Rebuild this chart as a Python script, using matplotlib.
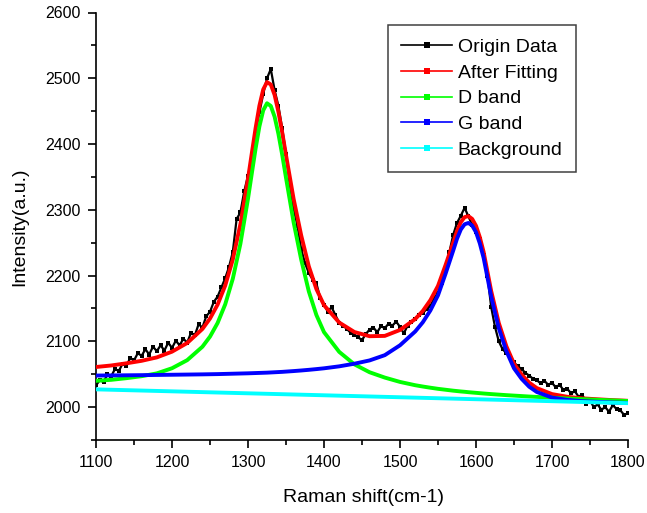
import matplotlib
matplotlib.use('Agg')
import matplotlib.pyplot as plt
from matplotlib.lines import Line2D
from matplotlib.ticker import MultipleLocator

plt.rcParams['font.family'] = ['Liberation Sans', 'DejaVu Sans']

# ---------------- data ----------------
# measured spectrum (every 5 cm-1 from 1100 to 1800)
raman_x = list(range(1100, 1805, 5))
origin_data = [
    2033, 2041, 2038, 2050, 2047, 2058, 2055, 2066, 2062, 2075,
    2071, 2082, 2078, 2088, 2080, 2092, 2085, 2094, 2086, 2098,
    2090, 2101, 2094, 2104, 2098, 2113, 2109, 2126, 2121, 2138,
    2145, 2160, 2168, 2182, 2196, 2213, 2236, 2286, 2296, 2328,
    2352, 2378, 2420, 2448, 2476, 2500, 2514, 2482, 2458, 2424,
    2385, 2338, 2302, 2276, 2240, 2219, 2204, 2194, 2188, 2166,
    2156, 2145, 2152, 2140, 2128, 2124, 2119, 2113, 2110, 2106,
    2102, 2111, 2118, 2121, 2114, 2123, 2120, 2127, 2124, 2130,
    2122, 2112, 2124, 2130, 2134, 2140, 2143, 2149, 2154, 2166,
    2174, 2189, 2212, 2236, 2262, 2280, 2291, 2303, 2290, 2277,
    2266, 2256, 2232, 2200, 2152, 2122, 2100, 2088, 2082, 2078,
    2068, 2062, 2058, 2052, 2048, 2043, 2041, 2036, 2040, 2034,
    2037, 2030, 2034, 2026, 2028, 2021, 2024, 2016, 2019, 2005,
    2010, 2000, 2004, 1996, 2000, 1993, 2003, 1997, 1995, 1988,
    1991,
]

# fitted curves
fit_x = [1100, 1120, 1140, 1160, 1180, 1200, 1220, 1240, 1250, 1260,
         1270, 1280, 1290, 1300, 1305, 1310, 1315, 1320, 1325, 1330,
         1335, 1340, 1345, 1350, 1360, 1370, 1380, 1390, 1400, 1420,
         1440, 1460, 1480, 1500, 1520, 1530, 1540, 1550, 1560, 1570,
         1575, 1580, 1585, 1590, 1595, 1600, 1605, 1610, 1620, 1630,
         1640, 1650, 1660, 1670, 1680, 1700, 1720, 1740, 1760, 1780,
         1800]

after_fitting = [2061.0, 2063.3, 2066.6, 2070.4, 2075.6, 2084.3, 2097.5, 2118.8, 2134.7, 2155.9,
                 2184.8, 2224.4, 2278.1, 2347.3, 2386.0, 2424.2, 2458.2, 2482.9, 2494.2, 2490.5,
                 2474.7, 2449.1, 2417.6, 2383.2, 2316.7, 2261.1, 2214.1, 2179.5, 2155.0, 2128.6,
                 2114.2, 2107.8, 2108.3, 2117.3, 2133.9, 2146.2, 2162.7, 2184.3, 2216.2, 2250.1,
                 2267.7, 2281.2, 2288.9, 2290.4, 2286.1, 2275.7, 2258.4, 2236.0, 2176.4, 2127.9,
                 2092.4, 2066.0, 2049.6, 2037.2, 2028.9, 2019.8, 2015.7, 2013.3, 2011.9, 2010.6,
                 2009.6]

d_band = [2040.0, 2041.5, 2044.0, 2047.0, 2051.3, 2059.1, 2071.4, 2091.8, 2107.2, 2127.9,
          2156.2, 2195.2, 2248.3, 2316.9, 2355.2, 2393.1, 2426.7, 2451.1, 2462.0, 2457.9,
          2441.6, 2415.6, 2383.6, 2348.7, 2281.1, 2224.3, 2176.0, 2140.0, 2114.0, 2084.0,
          2065.0, 2053.0, 2044.9, 2038.3, 2033.3, 2031.3, 2029.5, 2027.8, 2026.4, 2025.0,
          2024.4, 2023.8, 2023.3, 2022.7, 2022.2, 2021.7, 2021.2, 2020.7, 2019.8, 2019.0,
          2018.2, 2017.5, 2016.8, 2016.1, 2015.5, 2014.3, 2013.1, 2012.1, 2011.1, 2010.2,
          2009.3]

g_band = [2048.0, 2048.2, 2048.4, 2048.6, 2048.9, 2049.2, 2049.5, 2049.8, 2050.0, 2050.2,
          2050.5, 2050.8, 2051.1, 2051.4, 2051.6, 2051.8, 2052.0, 2052.2, 2052.4, 2052.7,
          2053.0, 2053.3, 2053.6, 2054.0, 2054.8, 2055.7, 2056.7, 2057.8, 2059.0, 2062.0,
          2066.0, 2071.0, 2079.0, 2094.0, 2115.0, 2129.0, 2147.0, 2170.0, 2203.0, 2238.0,
          2256.0, 2270.0, 2278.0, 2280.0, 2276.0, 2266.0, 2249.0, 2227.0, 2168.0, 2120.0,
          2085.0, 2059.0, 2043.0, 2031.0, 2023.0, 2014.5, 2011.0, 2009.0, 2008.0, 2007.0,
          2006.3]

background_x = [1100, 1800]
background = [2027, 2006]

series_labels = ['Origin Data', 'After Fitting', 'D band', 'G band', 'Background']
series_colors = ['#000000', '#ff0000', '#00ff00', '#0000ff', '#00ffff']

x_label = 'Raman shift(cm-1)'
y_label = 'Intensity(a.u.)'

# ---------------- figure ----------------
W, H = 647, 513
fig = plt.figure(figsize=(W / 100, H / 100), dpi=100)
ax = fig.add_axes([96 / W, 73 / H, 532 / W, 427.5 / H])

ax.plot(raman_x, origin_data, color=series_colors[0], lw=1.6, marker='s',
        ms=3.2, mew=0, zorder=2)
ax.plot(fit_x, after_fitting, color=series_colors[1], lw=2.8, zorder=3)
ax.plot(fit_x, d_band, color=series_colors[2], lw=2.8, zorder=4)
ax.plot(fit_x, g_band, color=series_colors[3], lw=2.8, zorder=5)
ax.plot(background_x, background, color=series_colors[4], lw=2.8, zorder=6)

ax.set_xlim(1100, 1800)
ax.set_ylim(1950, 2600)
for s in ['top', 'right']:
    ax.spines[s].set_visible(False)
for s in ['left', 'bottom']:
    ax.spines[s].set_linewidth(1.2)

ax.xaxis.set_major_locator(MultipleLocator(100))
ax.xaxis.set_minor_locator(MultipleLocator(50))
ax.yaxis.set_major_locator(MultipleLocator(100))
ax.yaxis.set_minor_locator(MultipleLocator(50))
ax.tick_params(which='major', direction='out', length=6, width=1.2,
               labelsize=11.5)
ax.tick_params(which='minor', direction='out', length=3.5, width=1.2)
ax.tick_params(axis='y', which='major', pad=5)
ax.tick_params(axis='x', which='major', pad=5)

ax.set_xlabel(x_label, fontsize=14)
ax.set_ylabel(y_label, fontsize=14)
ax.xaxis.set_label_coords(0.502, -0.114)
ax.yaxis.set_label_coords(-0.128, 0.5)

handles = [Line2D([], [], color=c, lw=1.2, marker='s', ms=4, mew=0)
           for c in series_colors]
leg = ax.legend(handles, series_labels, loc='upper left',
                bbox_to_anchor=(388 / W, 1 - 25 / H),
                bbox_transform=fig.transFigure, fontsize=14, frameon=True,
                fancybox=False, edgecolor='#404040', framealpha=1,
                borderpad=0.68, labelspacing=0.42, handlelength=2.6,
                handletextpad=0.3, numpoints=1, borderaxespad=0)
leg.get_frame().set_linewidth(1.1)

fig.savefig('out.png', dpi=100)
